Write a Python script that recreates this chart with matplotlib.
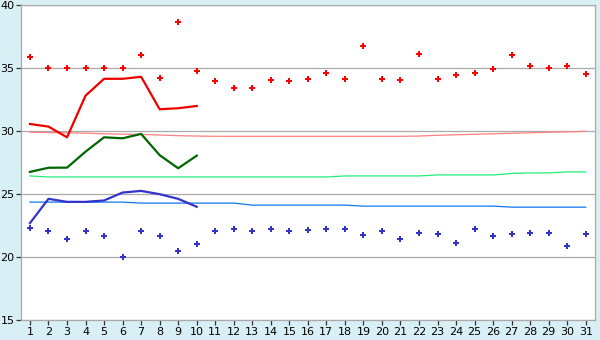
import matplotlib
matplotlib.use("Agg")
import matplotlib.pyplot as plt
import numpy as np

days = list(range(1, 32))

red_points = [35.87, 35.0, 35.0, 35.0, 35.0, 35.0, 36.03, 34.2, 38.65, 34.76,
              33.97, 33.41, 33.41, 34.05, 33.97, 34.13, 34.6, 34.13, 36.75, 34.13,
              34.05, 36.11, 34.13, 34.44, 34.6, 34.92, 36.03, 35.16, 35.0, 35.16, 34.52]
blue_points = [22.3, 22.06, 21.43, 22.06, 21.67, 20.0, 22.06, 21.67, 20.48, 21.03,
               22.06, 22.22, 22.06, 22.22, 22.06, 22.14, 22.22, 22.22, 21.75, 22.06,
               21.43, 21.9, 21.83, 21.11, 22.22, 21.67, 21.83, 21.9, 21.9, 20.87, 21.83]

line_days = list(range(1, 11))
red_line = [30.58, 30.37, 29.52, 32.83, 34.17, 34.17, 34.33, 31.75, 31.83, 32.01]
green_line = [26.77, 27.1, 27.11, 28.38, 29.52, 29.44, 29.79, 28.1, 27.06, 28.06]
blue_line = [22.7, 24.63, 24.39, 24.39, 24.5, 25.13, 25.26, 25.0, 24.63, 24.0]

pink_ref = [29.92, 29.9, 29.87, 29.85, 29.8, 29.77, 29.75, 29.7, 29.65, 29.62,
            29.6, 29.6, 29.6, 29.6, 29.6, 29.6, 29.6, 29.6, 29.6, 29.6,
            29.6, 29.62, 29.68, 29.72, 29.76, 29.8, 29.84, 29.88, 29.92, 29.95, 30.0]
green_ref = [26.45, 26.37, 26.37, 26.37, 26.37, 26.37, 26.37, 26.37, 26.37, 26.37,
             26.37, 26.37, 26.37, 26.37, 26.37, 26.37, 26.37, 26.45, 26.45, 26.45,
             26.45, 26.45, 26.53, 26.53, 26.53, 26.53, 26.65, 26.69, 26.69, 26.77, 26.77]
blue_ref = [24.37, 24.37, 24.37, 24.37, 24.37, 24.37, 24.29, 24.29, 24.29, 24.29,
            24.29, 24.29, 24.13, 24.13, 24.13, 24.13, 24.13, 24.13, 24.05, 24.05,
            24.05, 24.05, 24.05, 24.05, 24.05, 24.05, 23.97, 23.97, 23.97, 23.97, 23.97]

y_ticks = [15, 20, 25, 30, 35, 40]

bg = "#d9eff6"
fig = plt.figure(figsize=(6, 3.4), dpi=100, facecolor=bg)
ax = fig.add_axes([0.0345, 0.0588, 0.9572, 0.9252])
ax.set_facecolor("white")

for yv in y_ticks:
    ax.axhline(yv, color="#aaaaaa", lw=0.9, zorder=1)

ax.plot(days, pink_ref, color="#ff8080", lw=0.9, zorder=2)
ax.plot(days, green_ref, color="#22ee77", lw=0.9, zorder=2)
ax.plot(days, blue_ref, color="#1177ee", lw=0.9, zorder=2)

ax.plot(line_days, red_line, color="#ee0000", lw=1.6, zorder=3)
ax.plot(line_days, green_line, color="#006600", lw=1.6, zorder=3)
ax.plot(line_days, blue_line, color="#3333cc", lw=1.6, zorder=3)

ax.plot(days, red_points, ls="none", marker="P", ms=5.0, color="#ff0000",
        markeredgewidth=0, zorder=4)
ax.plot(days, blue_points, ls="none", marker="P", ms=5.0, color="#3333cc",
        markeredgewidth=0, zorder=4)

ax.set_xlim(0.5, 31.5)
ax.set_ylim(15, 40)
ax.set_xticks(days)
ax.set_xticklabels([str(d) for d in days])
ax.set_yticks(y_ticks)
ax.tick_params(axis="both", labelsize=8, color="#333333", length=3.5, width=0.9)
ax.tick_params(axis="x", pad=1.5)
ax.tick_params(axis="y", pad=1)
for s in ax.spines.values():
    s.set_color("#aaaaaa")
    s.set_linewidth(0.9)

fig.savefig("out.png", dpi=100, facecolor=bg)
